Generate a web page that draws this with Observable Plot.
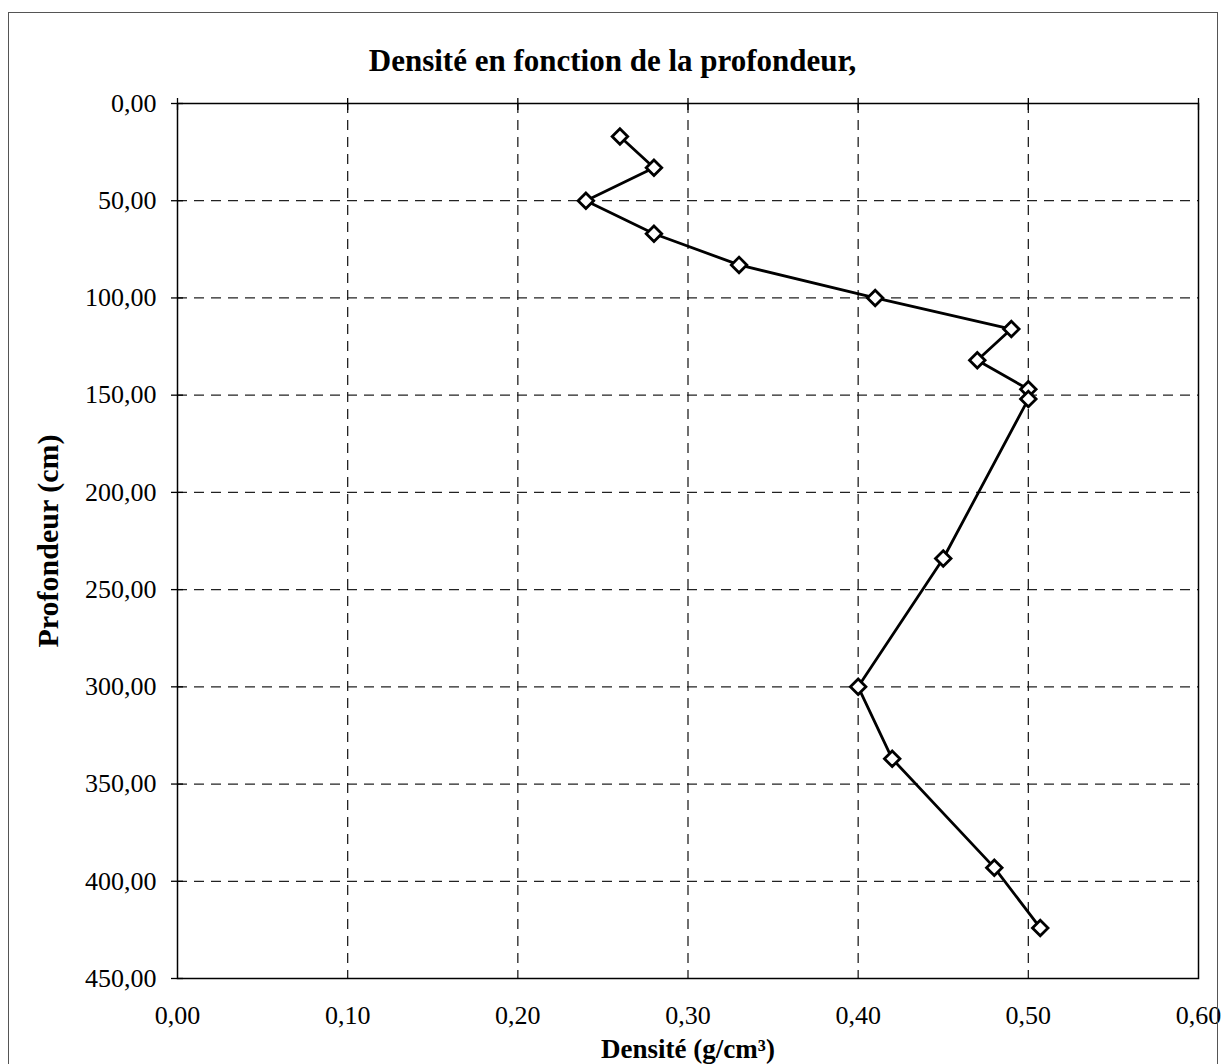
<!DOCTYPE html>
<html>
<head>
<meta charset="utf-8">
<script src="https://cdn.jsdelivr.net/npm/d3@7"></script>
<script src="https://cdn.jsdelivr.net/npm/@observablehq/plot@0.6"></script>
<style>
  html, body { margin: 0; padding: 0; background: #fff; }
  #wrap { position: relative; width: 1225px; height: 1064px; overflow: hidden; }
  #border { position: absolute; left: 8px; top: 12px; width: 1210px; height: 1100px; border: 1.5px solid #555; border-bottom: none; box-sizing: border-box; pointer-events: none; }
  #title { height: 80px; box-sizing: border-box; padding-top: 45px; line-height: 32px; text-align: center; font-family: "Liberation Serif", "Times New Roman", serif; font-weight: bold; font-size: 31px; color: #000; }
  svg { display: block; }
</style>
</head>
<body>
<div id="wrap">
  <div id="border"></div>
  <div id="title">Densité en fonction de la profondeur,</div>
  <div id="chart"></div>
</div>
<script>
const densite    = [0.26, 0.28, 0.24, 0.28, 0.33, 0.41, 0.49, 0.47, 0.50, 0.50, 0.45, 0.40, 0.42, 0.48, 0.507];
const profondeur = [17, 33, 50, 67, 83, 100, 116, 132, 147, 152, 234, 300, 337, 393, 424];
const xTicks = [0, 0.1, 0.2, 0.3, 0.4, 0.5, 0.6];
const yTicks = [0, 50, 100, 150, 200, 250, 300, 350, 400, 450];
const xLabel = "Densité (g/cm³)";
const yLabel = "Profondeur (cm)";

const data = densite.map((d, i) => ({densite: d, profondeur: profondeur[i]}));
const fmt = d => d.toFixed(2).replace(".", ",");
const blank = () => "";

const chart = Plot.plot({
  width: 1225,
  height: 984,
  marginTop: 23,
  marginLeft: 177,
  marginRight: 27,
  marginBottom: 86,
  style: { fontFamily: "'Liberation Serif', 'Times New Roman', serif", fontSize: "26px", color: "#000", background: "#fff" },
  x: { domain: [0, 0.6], ticks: xTicks },
  y: { domain: [0, 450], reverse: true, ticks: yTicks },
  marks: [
    Plot.gridX(xTicks.filter(d => d > 0 && d < 0.6), { stroke: "#222", strokeOpacity: 1, strokeWidth: 1.3, strokeDasharray: "10,7" }),
    Plot.gridY(yTicks.filter(d => d > 0 && d < 450), { stroke: "#222", strokeOpacity: 1, strokeWidth: 1.3, strokeDasharray: "10,7" }),
    Plot.frame({ stroke: "#000", strokeWidth: 1.5 }),
    Plot.axisX(xTicks, { anchor: "top", tickSize: 12, dy: 6, tickFormat: blank, label: null, stroke: "#000", strokeWidth: 1.3 }),
    Plot.axisX(xTicks, { anchor: "bottom", tickSize: 0, tickPadding: 27, tickFormat: fmt, fill: "#000", label: null, fontSize: 26 }),
    Plot.axisX({ anchor: "bottom", ticks: [], tickSize: 0, label: xLabel, labelAnchor: "center", labelOffset: 79, labelArrow: "none", fontWeight: "bold", fontSize: 27, dx: 7 }),
    Plot.axisY(yTicks, { anchor: "left", tickSize: 12, dx: 6, tickFormat: blank, label: null, stroke: "#000", strokeWidth: 1.3 }),
    Plot.axisY(yTicks, { anchor: "left", tickSize: 0, tickPadding: 21, tickFormat: fmt, fill: "#000", label: null, fontSize: 26 }),
    Plot.axisY({ anchor: "left", ticks: [], tickSize: 0, label: yLabel, labelAnchor: "center", labelOffset: 141, labelArrow: "none", fontWeight: "bold", fontSize: 30, dy: -5 }),
    Plot.line(data, { x: "densite", y: "profondeur", stroke: "#000", strokeWidth: 2.8 }),
    Plot.dot(data, { x: "densite", y: "profondeur", symbol: "diamond2", r: 7, stroke: "#000", strokeWidth: 2.8, fill: "#fff" })
  ]
});
document.getElementById("chart").appendChild(chart);
</script>
</body>
</html>
